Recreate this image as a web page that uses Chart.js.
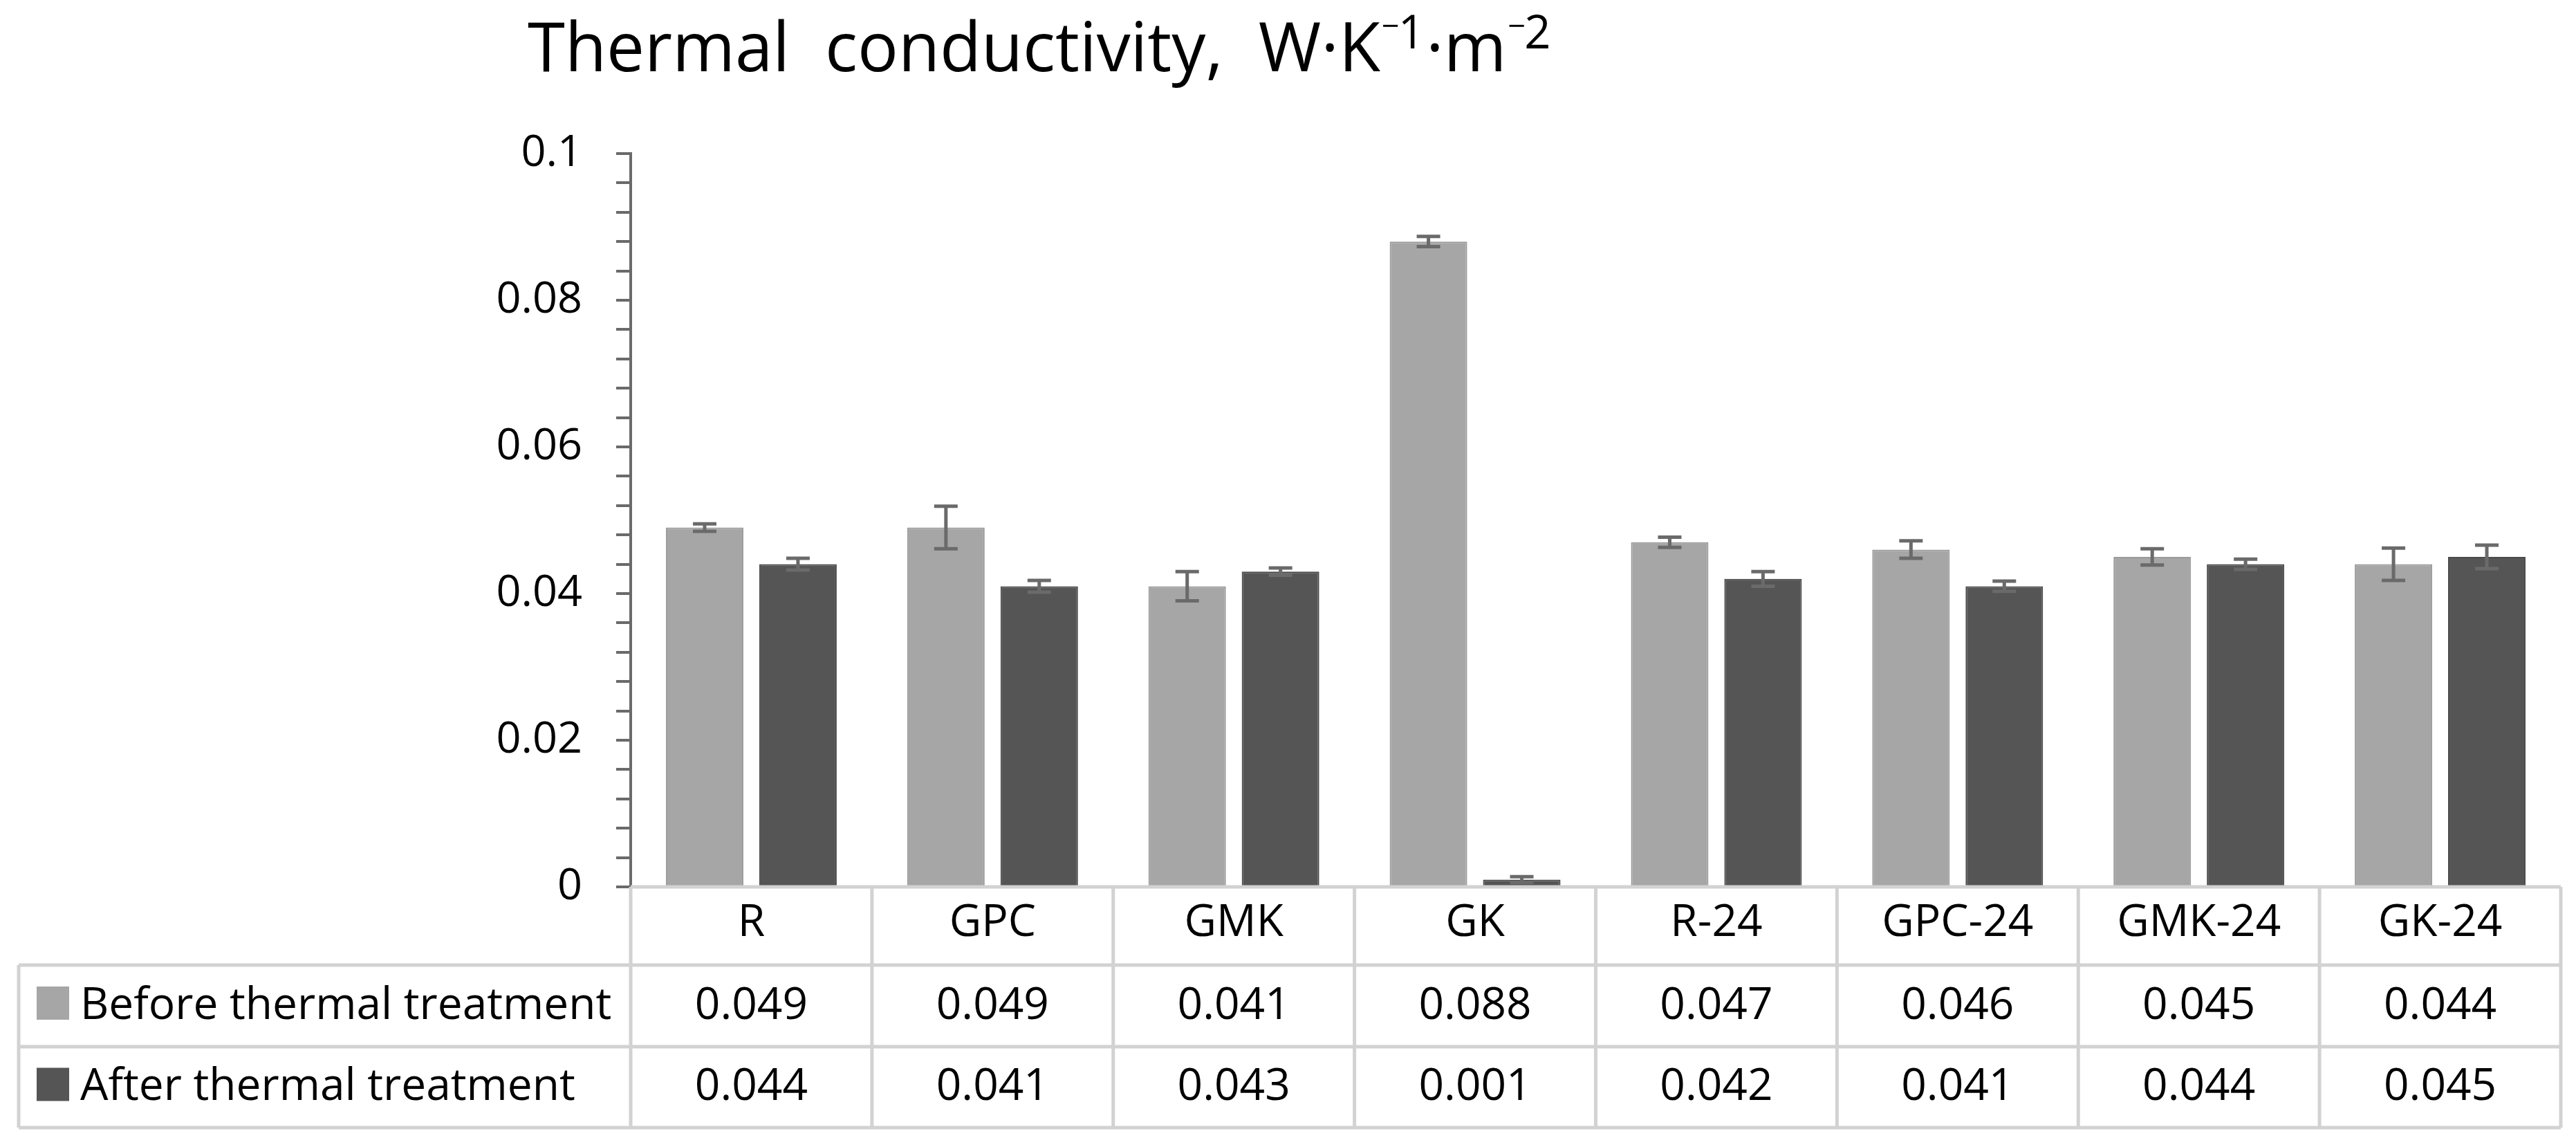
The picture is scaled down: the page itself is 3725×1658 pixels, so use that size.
<!DOCTYPE html>
<html>
<head>
<meta charset="utf-8">
<script src="https://cdn.jsdelivr.net/npm/chart.js@4.4.1/dist/chart.umd.min.js"></script>
<style>
  html, body { margin: 0; padding: 0; background: #fff; }
  #wrap { width: 3725px; height: 1658px; }
</style>
</head>
<body>
<div id="wrap"><canvas id="c" width="3725" height="1658"></canvas></div>
<script>
// ---- data ----
const categories = ["R", "GPC", "GMK", "GK", "R-24", "GPC-24", "GMK-24", "GK-24"];
const seriesNames = ["Before thermal treatment", "After thermal treatment"];
const beforeValues = [0.049, 0.049, 0.041, 0.088, 0.047, 0.046, 0.045, 0.044];
const afterValues  = [0.044, 0.041, 0.043, 0.001, 0.042, 0.041, 0.044, 0.045];
const beforeErrors = [0.0005, 0.0029, 0.002, 0.0007, 0.0007, 0.0012, 0.0011, 0.0022];
const afterErrors  = [0.0008, 0.0008, 0.0005, 0.0004, 0.001, 0.0007, 0.0007, 0.0016];
const beforeLabels = ["0.049", "0.049", "0.041", "0.088", "0.047", "0.046", "0.045", "0.044"];
const afterLabels  = ["0.044", "0.041", "0.043", "0.001", "0.042", "0.041", "0.044", "0.045"];
const yTickValues = [0, 0.02, 0.04, 0.06, 0.08, 0.1];
const titleText = "Thermal  conductivity,  W·K";
const titleUnitTail = ["−", "1", "·m", "−", "2"];

const FONT = "'Open Sans'";
const lightGray = "#a6a6a6";
const darkGray = "#555555";

const errorBarPlugin = {
  id: "errorBars",
  afterDatasetsDraw(chart) {
    const ctx = chart.ctx;
    const y = chart.scales.y;
    const errs = [beforeErrors, afterErrors];
    const vals = [beforeValues, afterValues];
    ctx.save();
    ctx.strokeStyle = "#6a6a6a";
    ctx.lineWidth = 5;
    chart.data.datasets.forEach((ds, di) => {
      const meta = chart.getDatasetMeta(di);
      meta.data.forEach((bar, i) => {
        const top = y.getPixelForValue(vals[di][i] + errs[di][i]);
        const bot = y.getPixelForValue(vals[di][i] - errs[di][i]);
        const x = bar.x, hw = 17;
        ctx.beginPath();
        ctx.moveTo(x, top); ctx.lineTo(x, bot);
        ctx.moveTo(x - hw, top); ctx.lineTo(x + hw, top);
        ctx.moveTo(x - hw, bot); ctx.lineTo(x + hw, bot);
        ctx.stroke();
      });
    });
    ctx.restore();
  }
};

const tablePlugin = {
  id: "dataTable",
  afterDraw(chart) {
    const ctx = chart.ctx;
    const area = chart.chartArea;
    const n = categories.length;
    const colW = (area.right - area.left) / n;
    const rowTop = area.bottom, r1 = 1395, r2 = 1513, r3 = 1630, tableLeft = 27;
    ctx.save();
    ctx.strokeStyle = "#d2d2d2";
    ctx.lineWidth = 5;
    ctx.beginPath();
    ctx.moveTo(area.left, rowTop); ctx.lineTo(area.right, rowTop);
    [r1, r2, r3].forEach(yy => { ctx.moveTo(tableLeft, yy); ctx.lineTo(area.right, yy); });
    ctx.moveTo(tableLeft, r1); ctx.lineTo(tableLeft, r3);
    for (let i = 0; i <= n; i++) {
      const xx = area.left + i * colW;
      ctx.moveTo(xx, rowTop); ctx.lineTo(xx, r3);
    }
    ctx.stroke();
    // redraw y axis end so it sits above the grid line
    ctx.fillStyle = "#000";
    const fs = 64;
    ctx.font = `${fs}px ${FONT}`;
    ctx.textAlign = "center";
    ctx.textBaseline = "alphabetic";
    const off = fs * 0.357;
    const c0 = (rowTop + r1) / 2 - 8, c1 = (r1 + r2) / 2 - 4, c2 = (r2 + r3) / 2 - 4;
    for (let i = 0; i < n; i++) {
      const cx = chart.scales.x.getPixelForValue(i);
      ctx.fillText(categories[i], cx, c0 + off);
      ctx.fillText(beforeLabels[i], cx, c1 + off);
      ctx.fillText(afterLabels[i], cx, c2 + off);
    }
    ctx.textAlign = "left";
    const rows = [[c1, lightGray, seriesNames[0]], [c2, darkGray, seriesNames[1]]];
    rows.forEach(([cy, col, txt]) => {
      ctx.fillStyle = col;
      ctx.fillRect(53, cy - 24, 47, 48);
      ctx.fillStyle = "#000";
      ctx.fillText(txt, 116, cy + off);
    });
    ctx.restore();
  }
};

const titlePlugin = {
  id: "customTitle",
  afterDraw(chart) {
    const ctx = chart.ctx;
    ctx.save();
    ctx.fillStyle = "#000";
    ctx.textBaseline = "alphabetic";
    ctx.textAlign = "left";
    const base = 103;
    let x = 763;
    const styles = [[45, base - 50], [67, base - 33], [98, base], [45, base - 50], [67, base - 33]];
    ctx.font = `98px ${FONT}`;
    ctx.fillText(titleText, x, base);
    x += ctx.measureText(titleText).width + 2;
    titleUnitTail.forEach((t, k) => {
      const [sz, b] = styles[k];
      ctx.font = `${sz}px ${FONT}`;
      ctx.fillText(t, x, b);
      x += ctx.measureText(t).width + (k === 0 || k === 3 ? -2 : 2);
    });
    ctx.restore();
  }
};

new Chart(document.getElementById("c"), {
  type: "bar",
  data: {
    labels: categories,
    datasets: [
      { label: seriesNames[0], data: beforeValues, backgroundColor: lightGray, borderColor: "#9a9a9a", borderWidth: 2 },
      { label: seriesNames[1], data: afterValues, backgroundColor: darkGray, borderColor: "#4a4a4a", borderWidth: 2 }
    ]
  },
  options: {
    responsive: false,
    animation: false,
    devicePixelRatio: 1,
    layout: { padding: { top: 222, right: 22, bottom: 376, left: 0 } },
    categoryPercentage: 0.7736,
    barPercentage: 0.83,
    plugins: { legend: { display: false }, tooltip: { enabled: false }, title: { display: false } },
    scales: {
      x: { display: false, grid: { display: false } },
      y: {
        min: 0, max: 0.1,
        afterFit(s) { s.width = 912; },
        afterBuildTicks(s) {
          const t = [];
          for (let k = 0; k <= 25; k++) t.push({ value: k * 0.004 });
          s.ticks = t;
        },
        ticks: {
          font: { family: "Open Sans", size: 63 },
          color: "#000",
          padding: 49,
          autoSkip: false,
          callback(v) {
            const hit = yTickValues.find(tv => Math.abs(tv - v) < 1e-9);
            return hit === undefined ? "" : String(hit);
          }
        },
        grid: { drawOnChartArea: false, drawTicks: true, tickLength: 21, color: "#6a6a6a", lineWidth: 4 },
        border: { display: true, color: "#6a6a6a", width: 4 }
      }
    }
  },
  plugins: [errorBarPlugin, tablePlugin, titlePlugin]
});
</script>
</body>
</html>
